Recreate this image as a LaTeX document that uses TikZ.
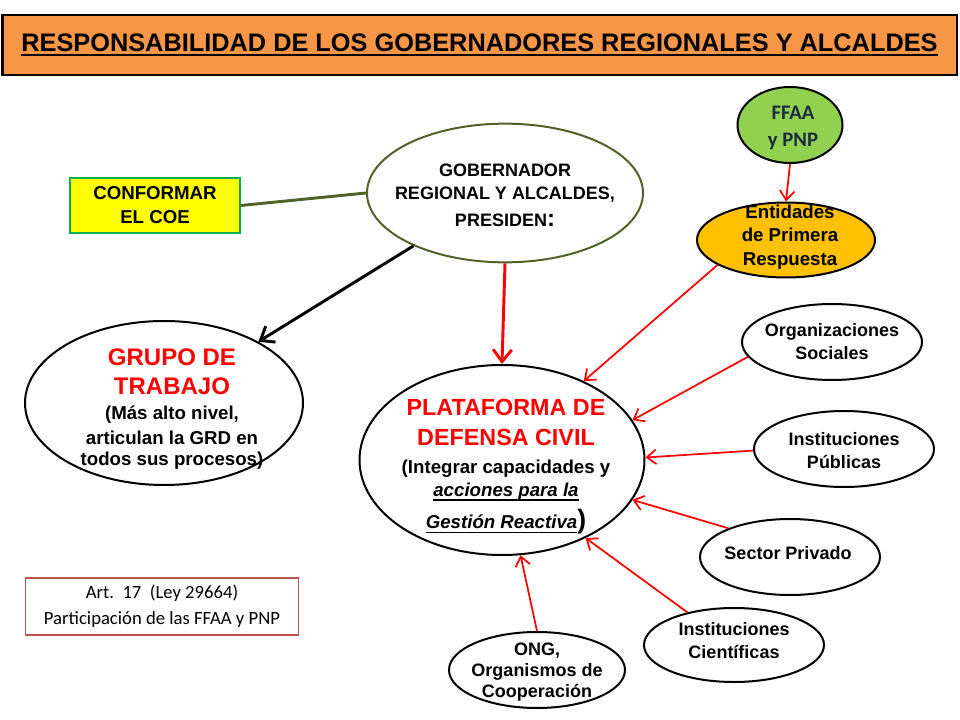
\documentclass[tikz,border=0pt]{standalone}
\usepackage{fontspec}
\setmainfont{Liberation Sans}
\newfontfamily\calibri{Carlito}
\usepackage{tikz}
\usetikzlibrary{arrows.meta,positioning,shapes.geometric}
\definecolor{banner}  {HTML}{F79646}
\definecolor{coeYel}  {HTML}{FFFF00}
\definecolor{coeGrn}  {HTML}{00B050}
\definecolor{olive}   {HTML}{4F6228}
\definecolor{ffaaGrn} {HTML}{92D050}
\definecolor{navy}    {HTML}{1C2B3F}
\definecolor{amber}   {HTML}{FFC000}
\definecolor{alert}   {HTML}{FF0000}
\definecolor{brick}   {HTML}{C0504D}
\newcommand{\thickul}[2][1.2pt]{\leavevmode\setbox0\hbox{#2}\rlap{\rule[-3.5pt]{\wd0}{#1}}\box0}

\begin{document}
\begin{tikzpicture}[
  x=0.75pt, y=-0.75pt,
  oval/.style={ellipse, draw=black, line width=1.5pt, fill=white, inner sep=0pt},
  side/.style={oval, minimum width=135pt, minimum height=57pt},
  txt/.style={font=\bfseries\fontsize{13.5}{17.25}\selectfont, align=center, inner sep=0pt},
  red/.style={text=alert, font=\bfseries\fontsize{18}{21}\selectfont},
  arr/.style={-{Straight Barb[length=7pt,width=11pt]}, alert, line width=1.3pt},
  bold arr/.style={-{Straight Barb[length=9pt,width=14pt]}, line width=2.2pt}
]
\useasboundingbox (0,0) rectangle (960,720);

\node[draw=black, line width=2pt, fill=banner, minimum width=716pt, minimum height=45pt,
      inner sep=0pt, font=\bfseries\fontsize{19}{22}\selectfont] (title) at (479.5,45)
  {\thickul[1.5pt]{RESPONSABILIDAD DE LOS GOBERNADORES REGIONALES Y ALCALDES}};

\node[draw=coeGrn, line width=1pt, fill=coeYel, minimum width=127.5pt, minimum height=41.25pt,
      inner sep=0pt, align=center, font=\bfseries\fontsize{14}{18}\selectfont] (coe) at (155,205.5)
  {CONFORMAR\\EL COE};

\node[oval, draw=olive, minimum width=207pt, minimum height=104pt] (gob) at (505,193) {};
\node[txt] (gobtxt) at (505,195) {GOBERNADOR\\REGIONAL Y ALCALDES,\\[3pt]PRESIDEN{\fontsize{18}{18}\selectfont:}};

\node[oval, minimum width=208.5pt, minimum height=123pt] (grupo) at (164,403) {};
\node[txt, font=\bfseries\fontsize{14}{16}\selectfont] (grupotxt) at (172,409)
  {{\color{alert}\fontsize{18}{21}\selectfont GRUPO DE}\\[5.75pt]
   {\color{alert}\fontsize{18}{21}\selectfont TRABAJO}\\[2.75pt]
   (Más alto nivel,\\[2.75pt]articulan la GRD en\\todos sus procesos)};

\node[oval, minimum width=213.75pt, minimum height=142.5pt] (plat) at (502,460) {};
\node[txt, font=\bfseries\fontsize{14}{17}\selectfont] (plattxt) at (506,467)
  {{\color{alert}\fontsize{17.5}{21}\selectfont PLATAFORMA DE}\\[5.5pt]
   {\color{alert}\fontsize{17.5}{21}\selectfont DEFENSA CIVIL}\\[3.3pt]
   (Integrar capacidades y\\[0.3pt]
   \thickul{\itshape acciones para la}\\[5.5pt]
   \thickul{\itshape Gestión Reactiva}{\fontsize{20}{20}\selectfont)}};

\node[oval, fill=ffaaGrn, minimum width=78.75pt, minimum height=57pt] (ffaa) at (790,125) {};
\node[txt, text=navy, font=\calibri\bfseries\fontsize{15.5}{20}\selectfont] (ffaatxt) at (793,128) {FFAA\\y PNP};

\node[oval, fill=amber, minimum width=133.5pt, minimum height=56.25pt] (ent) at (786,240) {};
\node[txt, font=\bfseries\fontsize{14}{17.6}\selectfont] (enttxt) at (790,237) {Entidades\\de Primera\\Respuesta};

\node[side] (org) at (832,342) {};
\node[txt] (orgtxt) at (832,342) {Organizaciones\\Sociales};

\node[side] (pub) at (844,449) {};
\node[txt] (pubtxt) at (844,451) {Instituciones\\Públicas};

\node[side] (priv) at (790,557) {};
\node[txt] (privtxt) at (788,553) {Sector Privado};

\node[side, minimum height=55.5pt] (cient) at (734,645) {};
\node[txt] (cienttxt) at (734,641) {Instituciones\\Científicas};

\node[side, minimum width=132pt] (ong) at (537,670) {};
\node[txt, font=\bfseries\fontsize{13.5}{15.75}\selectfont] (ongtxt) at (537,672) {ONG,\\Organismos de\\Cooperación};

\node[draw=brick, line width=0.8pt, minimum width=204.75pt, minimum height=42.75pt, inner sep=0pt,
      align=center, font=\calibri\fontsize{14}{19.5}\selectfont] (art) at (162,606.5)
  {Art.\ \ 17\ \ (Ley 29664)\\Participación de las FFAA y PNP};

\draw[olive, line width=2.2pt] (coe.east) -- (gob.west);
\draw[bold arr] (gob.210) -- (grupo.33);
\draw[bold arr, alert] (gob.south) -- (plat.north);
\draw[arr] (ffaa.south) -- (ent.north);
\draw[arr] (ent.200) -- (plat.44);
\draw[arr] (org.190) -- (plat.17);
\draw[arr] (pub.181) -- (plat.1);
\draw[arr] (priv.155) -- (plat.-17);
\draw[arr] (cient.145) -- (plat.-43);
\draw[arr] (ong.north) -- (plat.-79);
\end{tikzpicture}
\end{document}
